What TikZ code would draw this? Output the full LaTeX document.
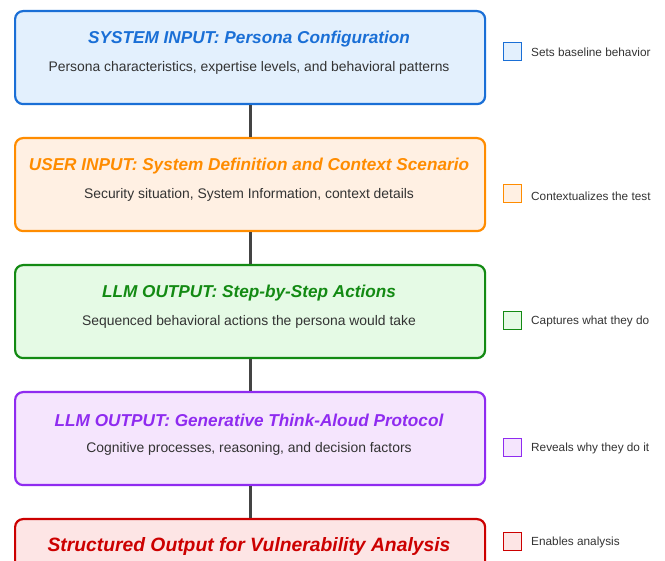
\documentclass[tikz,border=0pt]{standalone}
\usepackage{fontspec}
\setmainfont{Liberation Sans}
\begin{document}
\begin{tikzpicture}[x=1pt,y=-1pt,
  stage/.style 2 args={draw=#1, fill=#2, line width=2.2pt, rounded corners=8pt,
    minimum width=470pt, minimum height=93pt, anchor=north west, inner sep=0pt},
  ttl/.style={font=\fontsize{17.2}{20}\selectfont\bfseries\itshape, text=#1, anchor=center},
  body/.style={font=\fontsize{13.9}{16}\selectfont, text=textgray, anchor=center},
  key/.style 2 args={draw=#1, fill=#2, line width=0.9pt, minimum size=18pt, inner sep=0pt, anchor=west},
  keytxt/.style={font=\fontsize{11.8}{13}\selectfont, text=textgray, anchor=west, inner sep=0pt},
  link/.style={draw=linkgray, line width=2.8pt}]
\definecolor{cblue}{HTML}{1A6FD6}
\definecolor{corange}{HTML}{FF8C00}
\definecolor{cgreen}{HTML}{138A13}
\definecolor{cpurple}{HTML}{8F2BF0}
\definecolor{cred}{HTML}{CC0000}
\definecolor{fblue}{HTML}{E3F0FD}
\definecolor{forange}{HTML}{FFF0E3}
\definecolor{fgreen}{HTML}{E5FAE5}
\definecolor{fpurple}{HTML}{F5E5FD}
\definecolor{fred}{HTML}{FDE5E5}
\definecolor{textgray}{HTML}{333333}
\definecolor{linkgray}{HTML}{444444}
\useasboundingbox (0,0) rectangle (665,561);
\clip (0,0) rectangle (665,561);

% pipeline stages
\node[stage={cblue}{fblue}] (s1) at (14,10) {};
\node[stage={corange}{forange}] (s2) at (14,137) {};
\node[stage={cgreen}{fgreen}] (s3) at (14,264) {};
\node[stage={cpurple}{fpurple}] (s4) at (14,391) {};
\node[stage={cred}{fred}] (s5) at (14,518) {};

% connectors between stages
\draw[link] (s1.south) -- (s2.north);
\draw[link] (s2.south) -- (s3.north);
\draw[link] (s3.south) -- (s4.north);
\draw[link] (s4.south) -- (s5.north);

% stage titles and descriptions
\node[ttl=cblue] (t1) at (249,39) {SYSTEM INPUT: Persona Configuration};
\node[body] (d1) at (249,67.5) {Persona characteristics, expertise levels, and behavioral patterns};
\node[ttl=corange] (t2) at (249,166) {USER INPUT: System Definition and Context Scenario};
\node[body] (d2) at (249,194.5) {Security situation, System Information, context details};
\node[ttl=cgreen] (t3) at (249,293) {LLM OUTPUT: Step-by-Step Actions};
\node[body] (d3) at (249,321.5) {Sequenced behavioral actions the persona would take};
\node[ttl=cpurple] (t4) at (249,420) {LLM OUTPUT: Generative Think-Aloud Protocol};
\node[body] (d4) at (249,448.5) {Cognitive processes, reasoning, and decision factors};
\node[font=\fontsize{19.3}{22}\selectfont\bfseries\itshape, text=cred] (t5) at (249,546.5) {Structured Output for Vulnerability Analysis};

% legend
\node[key={cblue}{fblue}] (k1) at (503,51.5) {};
\node[keytxt] (l1) at (531,52) {Sets baseline behavior};
\node[key={corange}{forange}] (k2) at (503,193.5) {};
\node[keytxt] (l2) at (531,196.5) {Contextualizes the test};
\node[key={cgreen}{fgreen}] (k3) at (503,320.5) {};
\node[keytxt] (l3) at (531,321) {Captures what they do};
\node[key={cpurple}{fpurple}] (k4) at (503,447.5) {};
\node[keytxt] (l4) at (531,448) {Reveals why they do it};
\node[key={cred}{fred}] (k5) at (503,541.5) {};
\node[keytxt] (l5) at (531,542) {Enables analysis};
\end{tikzpicture}
\end{document}
